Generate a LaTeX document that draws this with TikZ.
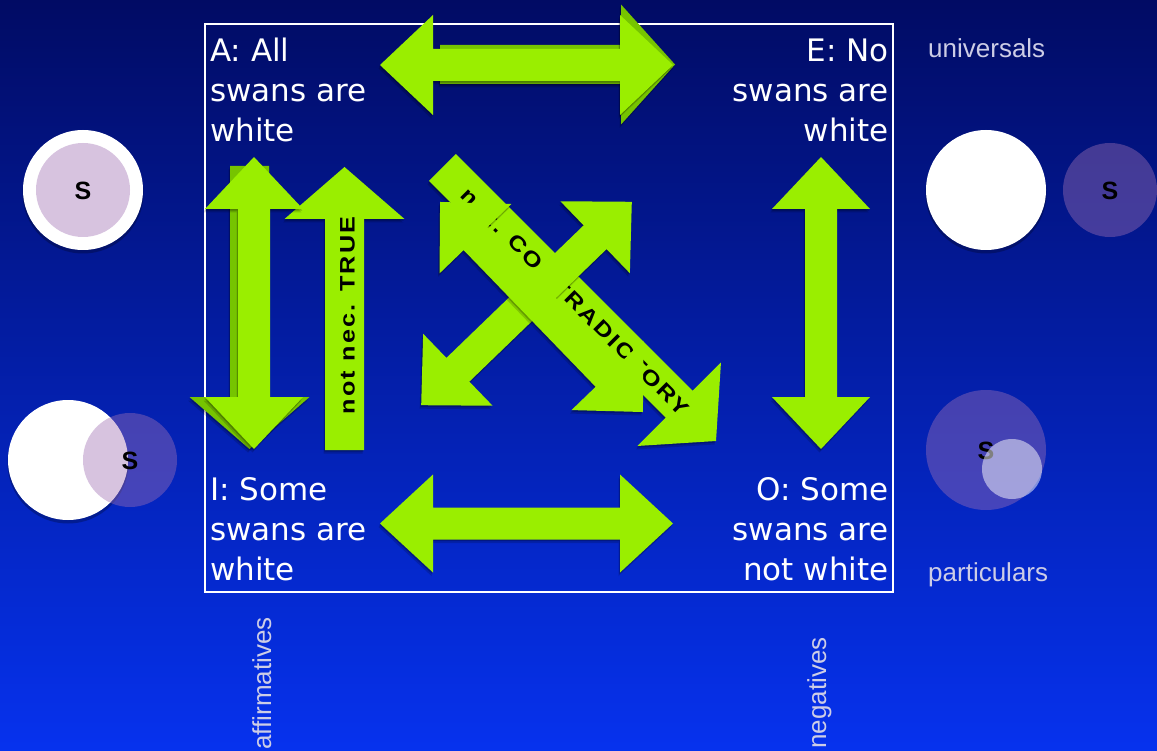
\documentclass[tikz,border=0pt]{standalone}
\usepackage{graphicx}
\usepackage{fontspec}
\setmainfont{DejaVu Sans}
\newfontfamily\helv{Liberation Sans}
\newfontfamily\trackfont[LetterSpace=9]{Liberation Sans}
\definecolor{lime}{RGB}{154,238,0}
\definecolor{limedark}{RGB}{118,196,0}
\definecolor{bgtop}{RGB}{1,11,100}
\definecolor{bgbot}{RGB}{6,50,238}
\definecolor{sideg}{RGB}{205,205,230}
\definecolor{purp}{RGB}{161,113,180}
% double arrow outline: half length, head length, head half-width, shaft half-width
\newcommand{\DApath}[4]{(-#1,0) -- ({-#1+#2},#3) -- ({-#1+#2},#4) -- ({#1-#2},#4) -- ({#1-#2},#3) -- (#1,0) -- ({#1-#2},-#3) -- ({#1-#2},-#4) -- ({-#1+#2},-#4) -- ({-#1+#2},-#3) -- cycle}
% single arrow outline (tip at +L)
\newcommand{\SApath}[4]{(-#1,-#4) -- ({#1-#2},-#4) -- ({#1-#2},-#3) -- (#1,0) -- ({#1-#2},#3) -- ({#1-#2},#4) -- (-#1,#4) -- cycle}
% #1 path macro, #2 colour, #3 cx, #4 cy, #5 angle, #6 L, #7 hl, #8 hw, #9 sw
\newcommand{\ArrowShape}[9]{%
  \begin{scope}[shift={(#3-1.5,#4+3.5)},rotate=#5]\fill[black,opacity=.16] #1{#6}{#7}{#8}{#9};\end{scope}
  \begin{scope}[shift={(#3-.7,#4+1.6)},rotate=#5]\fill[black,opacity=.22] #1{#6}{#7}{#8}{#9};\end{scope}
  \begin{scope}[shift={(#3,#4)},rotate=#5]\fill[#2] #1{#6}{#7}{#8}{#9};\end{scope}}
\newcommand{\wide}[1]{\scalebox{1.2}[1]{#1}}
\tikzset{
  lab/.style={font=\fontsize{31}{40}\selectfont, text=white, inner sep=0pt},
  side/.style={font=\helv\fontsize{26}{30}\selectfont, text=sideg, inner sep=0pt},
  arrtxt/.style={font=\trackfont\bfseries\fontsize{21}{24}\selectfont, text=black, inner sep=0pt},
  ess/.style={font=\helv\bfseries\fontsize{25}{28}\selectfont, text=black, inner sep=0pt},
  cshadow/.style={fill=black, opacity=.25},
}
\begin{document}
\begin{tikzpicture}[x=1pt,y=-1pt]
\useasboundingbox (0,0) rectangle (1157,751);
\shade[top color=bgtop, bottom color=bgbot] (0,0) rectangle (1157,751);

% frame
\draw[white, line width=2pt] (205,24) rectangle (893,592);

% ---- circles left
\fill[cshadow] (83,193) circle (60.5pt);
\fill[white] (83,190) circle (60pt);
\fill[purp, fill opacity=.42] (83,190) circle (47pt);
\node[ess] (s1) at (83,191) {S};

\fill[cshadow] (68,463) circle (60.5pt);
\fill[white] (68,460) circle (60pt);
\fill[purp, fill opacity=.42] (130,460) circle (47pt);
\node[ess] (s2) at (130,461) {S};

% ---- circles right
\fill[cshadow] (986,193) circle (60.5pt);
\fill[white] (986,190) circle (60pt);
\fill[purp, fill opacity=.42] (1110,190) circle (47pt);
\node[ess] (s3) at (1110,191) {S};

\fill[purp, fill opacity=.42] (986,450) circle (60pt);
\node[ess] (s4) at (986,451) {S};
\fill[white, fill opacity=.5] (1012,469) circle (30pt);

% ---- arrows
% top: hidden single arrow and double arrow
\ArrowShape{\SApath}{limedark}{557.5}{64.5}{0}{117.5}{54}{60}{19.5}
\ArrowShape{\DApath}{lime}{526.5}{65}{0}{146.5}{53}{50}{16}
% bottom
\ArrowShape{\DApath}{lime}{526.5}{523.5}{0}{146.5}{53}{49}{16}
% right vertical
\ArrowShape{\DApath}{lime}{821}{303}{90}{146}{52}{49}{16}
% "not nec. TRUE" up arrow
\ArrowShape{\SApath}{lime}{344.5}{308.5}{90}{141.5}{52}{60}{19.5}
% left vertical: hidden down arrow and double arrow
\ArrowShape{\SApath}{limedark}{249.5}{307.5}{-90}{141.5}{52}{60}{19.5}
\ArrowShape{\DApath}{lime}{254}{303}{90}{146}{52}{49}{16}
% diagonal text arrow
\ArrowShape{\SApath}{lime}{579.25}{304.25}{-45}{193.4}{52}{59}{19}
\node[arrtxt, rotate=-45, anchor=base] (contra) at (570.4,307.0) {\wide{not. CONTRADICTORY}};
% diagonal double arrows
\ArrowShape{\DApath}{lime}{526.5}{303.5}{44}{146.4}{51}{50}{16.5}
\ArrowShape{\DApath}{lime}{541.5}{307}{-46}{146}{51}{50}{16.5}

\node[arrtxt, rotate=90, anchor=base] (nottrue) at (354.5,315.5) {\wide{not nec. TRUE}};

% ---- quadrant labels
\node[lab, anchor=base west] (A1) at (210,62) {A: All};
\node[lab, anchor=base west] (A2) at (210,102) {swans are};
\node[lab, anchor=base west] (A3) at (210,142) {white};
\node[lab, anchor=base east] (E1) at (889,62) {E: No};
\node[lab, anchor=base east] (E2) at (889,102) {swans are};
\node[lab, anchor=base east] (E3) at (889,142) {white};
\node[lab, anchor=base west] (I1) at (210,500) {I: Some};
\node[lab, anchor=base west] (I2) at (210,540) {swans are};
\node[lab, anchor=base west] (I3) at (210,580) {white};
\node[lab, anchor=base east] (O1) at (889,500) {O: Some};
\node[lab, anchor=base east] (O2) at (889,540) {swans are};
\node[lab, anchor=base east] (O3) at (889,580) {not white};

% ---- side labels
\node[side, anchor=base west] (univ) at (928,58) {universals};
\node[side, anchor=base west] (part) at (928,581) {particulars};
\node[side, anchor=base west, rotate=90] (aff) at (271,750) {affirmatives};
\node[side, anchor=base west, rotate=90] (neg) at (826,749) {negatives};
\end{tikzpicture}
\end{document}
